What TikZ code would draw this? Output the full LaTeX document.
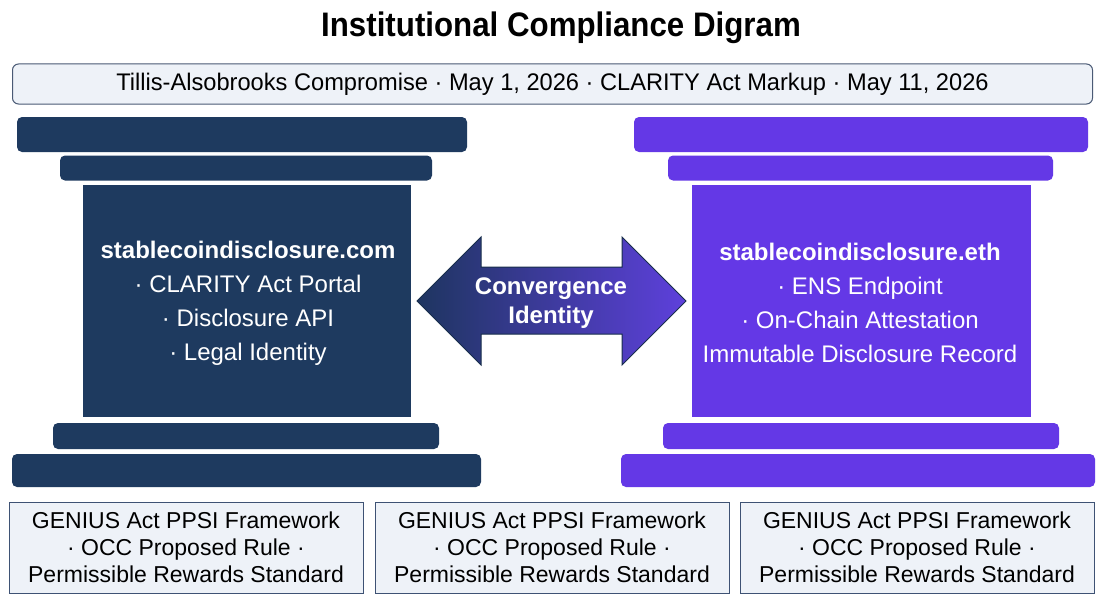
\documentclass[tikz,border=0pt]{standalone}
\usepackage{fontspec}
\setmainfont{Liberation Sans}
\usetikzlibrary{positioning}
\definecolor{navy}{HTML}{1E3A5F}
\definecolor{violet}{HTML}{6438E6}
\definecolor{arrowleft}{HTML}{1E3560}
\definecolor{arrowright}{HTML}{5E40DC}
\definecolor{panelfill}{HTML}{EEF2F8}
\definecolor{panelline}{HTML}{4A5A75}
\definecolor{boxline}{HTML}{3E5274}
\tikzset{
  navybar/.style={fill=navy, draw=none, rounded corners=5pt, inner sep=0pt},
  violetbar/.style={fill=violet, draw=none, rounded corners=5pt, inner sep=0pt},
  navybody/.style={fill=navy, draw=none, inner sep=0pt},
  violetbody/.style={fill=violet, draw=none, inner sep=0pt},
  bodytext/.style={text=white, align=center, font=\fontsize{24}{34}\selectfont},
  footbox/.style={fill=panelfill, draw=boxline, line width=1pt, inner sep=0pt,
     minimum width=354, minimum height=91, align=center, font=\fontsize{23}{27}\selectfont},
}
\begin{document}
\begin{tikzpicture}[x=1pt,y=-1pt]
\useasboundingbox (0,0) rectangle (1103,602);
\fill[white] (0,0) rectangle (1103,602);

% title
\node[font=\bfseries\fontsize{34}{38}\selectfont] (title) at (561,28) {\scalebox{0.92}[1]{Institutional Compliance Digram}};

% subtitle
\node[fill=panelfill, draw=panelline, line width=1pt, rounded corners=6pt, minimum width=1080, minimum height=40, inner sep=0pt,
  font=\fontsize{24}{28}\selectfont] (sub) at (552.5,84) {\scalebox{0.985}[1]{Tillis-Alsobrooks Compromise · May 1, 2026 · CLARITY Act Markup · May 11, 2026}};

% left pillar
\node[navybar, minimum width=450, minimum height=35] (lt1) at (242,134.5) {};
\node[navybar, minimum width=372, minimum height=25] (lt2) at (246,168) {};
\node[navybody, minimum width=328, minimum height=232] (lbody) at (247,301) {};
\node[navybar, minimum width=386, minimum height=26] (lb2) at (246,436) {};
\node[navybar, minimum width=469, minimum height=33] (lb1) at (246.5,470.5) {};
\node[bodytext] (ltext) at (248,303) {\textbf{stablecoindisclosure.com}\\· CLARITY Act Portal\\· Disclosure API\\· Legal Identity};

% right pillar
\node[violetbar, minimum width=454, minimum height=35] (rt1) at (861,134.5) {};
\node[violetbar, minimum width=385, minimum height=25] (rt2) at (860.5,168) {};
\node[violetbody, minimum width=339, minimum height=232] (rbody) at (861.5,301) {};
\node[violetbar, minimum width=396, minimum height=26] (rb2) at (861,436) {};
\node[violetbar, minimum width=474, minimum height=33] (rb1) at (858,470.5) {};
\node[bodytext] (rtext) at (860,303) {\textbf{stablecoindisclosure.eth}\\· ENS Endpoint\\· On-Chain Attestation\\Immutable Disclosure Record};

% convergence arrow
\coordinate (ltip) at (417,301);
\coordinate (rtip) at (686,301);
\shadedraw[left color=arrowleft, right color=arrowright, draw=navy!80!black, line width=1pt, line join=miter]
  (ltip) -- (481,237) -- (481,267) -- (622,267) -- (622,237) -- (rtip)
  -- (622,365) -- (622,334) -- (481,334) -- (481,365) -- cycle;
\node[text=white, align=center, font=\bfseries\fontsize{24}{29}\selectfont] (conv) at (551,303) {Convergence\\Identity};

% footer boxes
\node[footbox] (f1) at (186,547.5) {GENIUS Act PPSI Framework\\· OCC Proposed Rule ·\\Permissible Rewards Standard};
\node[footbox] (f2) at (552,547.5) {GENIUS Act PPSI Framework\\· OCC Proposed Rule ·\\Permissible Rewards Standard};
\node[footbox] (f3) at (917,547.5) {GENIUS Act PPSI Framework\\· OCC Proposed Rule ·\\Permissible Rewards Standard};
\end{tikzpicture}
\end{document}
